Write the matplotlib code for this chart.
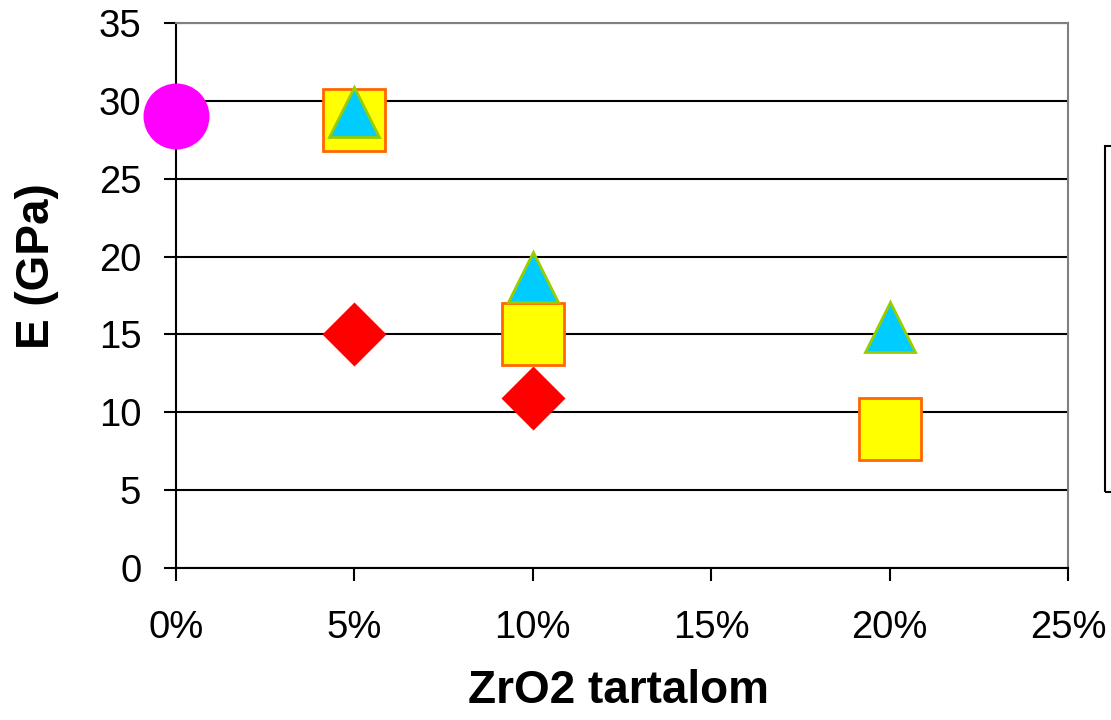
import matplotlib.pyplot as plt
from matplotlib.patches import Rectangle
from matplotlib.ticker import PercentFormatter, MultipleLocator

plt.rcParams['font.family'] = ['Liberation Sans', 'DejaVu Sans']

# ZrO2 tartalom (fraction) vs. E modulus (GPa), one list pair per series
x_kor = [0.0]
e_kor = [29.0]

x_rombusz = [0.05, 0.10]
e_rombusz = [15.0, 10.9]

x_negyzet = [0.05, 0.10, 0.20]
e_negyzet = [28.8, 15.0, 8.9]

x_haromszog = [0.05, 0.10, 0.20]
e_haromszog = [29.3, 18.7, 15.5]

fig = plt.figure(figsize=(11.11, 7.2), dpi=100)
ax = fig.add_axes([0.1584, 0.2111, 0.8029, 0.7569])

ax.plot(x_kor, e_kor, linestyle='none', marker='o', ms=47.5,
        mfc='#FF00FF', mec='none', clip_on=False, zorder=3)
ax.plot(x_rombusz, e_rombusz, linestyle='none', marker='D', ms=33,
        mfc='#FF0000', mec='none', clip_on=False, zorder=3)
ax.plot(x_negyzet, e_negyzet, linestyle='none', marker='s', ms=44,
        mfc='#FFFF00', mec='#FF6600', mew=2, clip_on=False, zorder=4)
ax.plot(x_haromszog, e_haromszog, linestyle='none', marker='^', ms=36,
        mfc='#00CCFF', mec='#99CC00', mew=2, clip_on=False, zorder=5)

ax.set_xlim(0, 0.25)
ax.set_ylim(0, 35)
ax.xaxis.set_major_locator(MultipleLocator(0.05))
ax.xaxis.set_major_formatter(PercentFormatter(xmax=1, decimals=0))
ax.yaxis.set_major_locator(MultipleLocator(5))

ax.yaxis.grid(True, color='black', linewidth=1.5)
ax.set_axisbelow(True)

for side in ['left', 'bottom']:
    ax.spines[side].set_color('black')
    ax.spines[side].set_linewidth(1.5)
for side in ['top', 'right']:
    ax.spines[side].set_color('#808080')
    ax.spines[side].set_linewidth(1.5)

ax.tick_params(axis='both', direction='out', length=9, width=1.5,
               labelsize=27.5, colors='black')
ax.tick_params(axis='x', pad=21)
ax.tick_params(axis='y', pad=16)

ax.set_xlabel('ZrO2 tartalom', fontsize=33, fontweight='bold')
ax.set_ylabel('E (GPa)', fontsize=33, fontweight='bold')
ax.xaxis.set_label_coords(0.4966, -0.186)
ax.yaxis.set_label_coords(-0.131, 0.554)

# legend frame, entries fall past the right edge
fig.patches.append(Rectangle((1105 / 1111, 1 - 492 / 720), 0.05, (492 - 146) / 720,
                             transform=fig.transFigure, fill=False,
                             edgecolor='black', linewidth=1.5))

fig.savefig('out.png', dpi=100)
